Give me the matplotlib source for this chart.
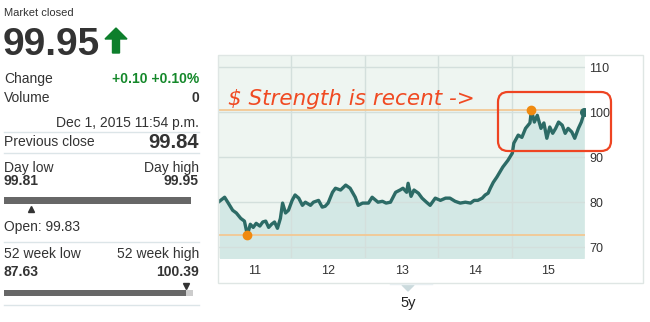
import matplotlib.pyplot as plt
from matplotlib.lines import Line2D
from matplotlib.patches import FancyBboxPatch, Polygon, Rectangle

# ---- data ----
years = [
    2011.02, 2011.09, 2011.14, 2011.20, 2011.25, 2011.31, 2011.36, 2011.40, 2011.44, 2011.48,
    2011.52, 2011.57, 2011.61, 2011.65, 2011.69, 2011.73, 2011.77, 2011.81, 2011.85, 2011.88,
    2011.92, 2011.96, 2012.01, 2012.05, 2012.10, 2012.15, 2012.19, 2012.26, 2012.30, 2012.37,
    2012.42, 2012.46, 2012.50, 2012.56, 2012.60, 2012.67, 2012.74, 2012.80, 2012.87, 2012.91,
    2012.97, 2013.05, 2013.10, 2013.18, 2013.24, 2013.29, 2013.35, 2013.42, 2013.48, 2013.52,
    2013.57, 2013.59, 2013.63, 2013.67, 2013.73, 2013.78, 2013.84, 2013.89, 2013.96, 2014.03,
    2014.10, 2014.16, 2014.23, 2014.30, 2014.37, 2014.44, 2014.49, 2014.54, 2014.60, 2014.64,
    2014.68, 2014.71, 2014.75, 2014.80, 2014.84, 2014.88, 2014.95, 2015.01, 2015.03, 2015.09,
    2015.14, 2015.19, 2015.25, 2015.27, 2015.31, 2015.35, 2015.40, 2015.44, 2015.48, 2015.52,
    2015.56, 2015.60, 2015.64, 2015.69, 2015.73, 2015.77, 2015.82, 2015.86, 2015.91, 2015.95,
    2015.99,
]
price = [
    80.2, 81.1, 79.8, 78.2, 77.6, 76.4, 75.8, 72.7, 75.1, 74.4,
    75.3, 74.7, 75.6, 75.8, 74.4, 75.1, 75.6, 74.2, 76.4, 79.8,
    77.6, 78.2, 80.4, 81.6, 80.9, 79.3, 80.0, 79.3, 80.0, 80.4,
    78.9, 79.1, 79.8, 82.2, 83.1, 82.7, 83.8, 83.1, 81.1, 79.3,
    79.8, 79.8, 81.1, 80.0, 80.2, 79.8, 80.0, 82.2, 82.7, 83.1,
    82.2, 84.2, 81.3, 82.7, 82.0, 80.9, 80.0, 79.3, 80.9, 80.4,
    80.9, 80.9, 80.2, 79.8, 80.0, 79.8, 80.4, 80.4, 80.9, 81.6,
    82.0, 83.1, 84.4, 85.6, 86.7, 87.8, 89.3, 90.9, 93.1, 94.9,
    94.4, 96.4, 97.6, 100.4, 97.8, 99.3, 96.4, 97.6, 94.2, 96.7,
    95.3, 96.4, 97.8, 97.1, 95.3, 96.4, 95.6, 94.2, 96.4, 97.8,
    99.95,
]
year_ticks = [2011.5, 2012.5, 2013.5, 2014.5, 2015.5]
year_labels = ["11", "12", "13", "14", "15"]
year_bounds = [2012, 2013, 2014, 2015]
y_ticks = [70, 80, 90, 100, 110]

last_price = 99.95
change_txt = "+0.10 +0.10%"
volume = 0
timestamp = "Dec 1, 2015 11:54 p.m."
prev_close = 99.84
day_low, day_high = 99.81, 99.95
open_price = 99.83
wk52_low, wk52_high = 87.63, 100.39

W, H = 650, 322
plt.rcParams["font.family"] = ["Liberation Sans", "DejaVu Sans"]

fig = plt.figure(figsize=(W / 100, H / 100), dpi=100)
inch = fig.dpi_scale_trans


def box(x0, y0, x1, y1):
    return [x0 / W, 1 - y1 / H, (x1 - x0) / W, (y1 - y0) / H]


def txt(x, y, s, **kw):
    kw.setdefault("color", "#333333")
    kw.setdefault("va", "baseline")
    return fig.text(x / 100, (H - y) / 100, s, transform=inch, **kw)


def hline(x0, x1, y, color="#dce5e8", lw=1.0):
    fig.add_artist(Line2D([x0 / 100, x1 / 100], [(H - y) / 100] * 2,
                          transform=inch, color=color, lw=lw))


# ---- price chart ----
teal = "#2c6b66"
ax = fig.add_axes(box(218, 55, 585, 258))
ax.set_facecolor("#eef5f1")
ax.fill_between(years, price, 60, color="#d3e8e5", lw=0, zorder=0.2)
ax.axhline(max(price), color="#f3c894", lw=1.3, zorder=1)
ax.axhline(min(price), color="#f3c894", lw=1.3, zorder=1)
ax.plot(years, price, color=teal, lw=2.4, solid_joinstyle="round", zorder=3)
hi = price.index(max(price))
lo = price.index(min(price))
ax.plot(years[hi], price[hi], "o", color="#f08a10", ms=6, zorder=4)
ax.plot(years[lo], price[lo], "o", color="#f08a10", ms=6, zorder=4)
ax.plot(years[-1], price[-1], "o", color=teal, ms=5.5, zorder=4)

ax.set_xlim(2011, 2016)
ax.set_ylim(67.6, 112.7)
ax.set_xticks(year_ticks, year_labels)
ax.set_xticks(year_bounds, minor=True)
ax.set_yticks(y_ticks)
ax.yaxis.tick_right()
ax.grid(which="minor", axis="x", color="#d3dfdc", lw=1)
ax.grid(which="major", axis="y", color="#d3dfdc", lw=1)
ax.set_axisbelow(True)
ax.tick_params(which="both", length=0, labelsize=9, colors="#333333")
ax.tick_params(axis="x", pad=5)
ax.tick_params(axis="y", pad=3)
for s in ax.spines.values():
    s.set_visible(False)

# outer frame
fig.add_artist(Rectangle((2.18, (H - 283) / 100), 4.25, 2.28, transform=inch,
                         fill=False, edgecolor="#dfe6e4", lw=1))

# annotation
txt(228, 105, "$ Strength is recent ->", color="#f04a22", fontsize=15.5,
    style="italic", family=["DejaVu Sans"])
fig.add_artist(FancyBboxPatch((4.98, (H - 151) / 100), 1.13, 0.59, transform=inch,
                              boxstyle="round,pad=0,rounding_size=0.1",
                              fill=False, edgecolor="#ee4422", lw=1.6))

# period selector
hline(390, 432, 284, color="#e8eff1")
fig.add_artist(Polygon([(4.02, (H - 285) / 100), (4.14, (H - 285) / 100),
                        (4.08, (H - 291) / 100)], transform=inch, color="#cbdadd"))
txt(408, 307, "5y", ha="center", fontsize=10.5, color="#222222")

# ---- quote panel ----
green = "#14882a"
txt(4, 16, "Market closed", fontsize=8)
txt(3, 55, f"{last_price:.2f}", fontsize=28, weight="bold")
fig.add_artist(Polygon([(x / 100, (H - y) / 100) for x, y in
                        [(105, 39), (116, 28), (127, 39), (119.5, 39), (119.5, 53),
                         (112.5, 53), (112.5, 39)]], transform=inch, color="#0d7f2c"))
txt(4, 83, "Change", fontsize=10)
txt(199, 83, change_txt, ha="right", fontsize=10, weight="bold", color=green)
txt(4, 102, "Volume", fontsize=10)
txt(199, 102, f"{volume}", ha="right", fontsize=10, weight="bold")
txt(199, 127, timestamp, ha="right", fontsize=10)
hline(4, 199, 132)
txt(4, 146, "Previous close", fontsize=10)
txt(199, 148, f"{prev_close:.2f}", ha="right", fontsize=14.5, weight="bold")
hline(4, 199, 153)
txt(4, 172, "Day low", fontsize=10)
txt(199, 172, "Day high", ha="right", fontsize=10)
txt(4, 185, f"{day_low:.2f}", fontsize=10, weight="bold")
txt(199, 185, f"{day_high:.2f}", ha="right", fontsize=10, weight="bold")
txt(4, 231, f"Open: {open_price:.2f}", fontsize=10)
hline(4, 199, 242)
txt(4, 258, "52 week low", fontsize=10)
txt(199, 258, "52 week high", ha="right", fontsize=10)
txt(4, 276, f"{wk52_low:.2f}", fontsize=10, weight="bold")
txt(199, 276, f"{wk52_high:.2f}", ha="right", fontsize=10, weight="bold")
hline(4, 199, 305)

# day range bar
axd = fig.add_axes(box(4, 197, 191, 204))
axd.barh(0, last_price - day_low, left=day_low, height=1, color="#676767")
axd.barh(0, day_high - last_price, left=last_price, height=1, color="#cccccc")
axd.plot(open_price, -1.15, "^", color="#333333", ms=4.5, clip_on=False)
axd.set_xlim(day_low, day_high)
axd.set_ylim(-0.5, 0.5)
axd.axis("off")

# 52 week bar
axw = fig.add_axes(box(4, 290, 193, 296))
axw.barh(0, last_price - wk52_low, left=wk52_low, height=1, color="#676767")
axw.barh(0, wk52_high - last_price, left=last_price, height=1, color="#cccccc")
axw.plot(last_price, 1.15, "v", color="#333333", ms=4.5, clip_on=False)
axw.set_xlim(wk52_low, wk52_high)
axw.set_ylim(-0.5, 0.5)
axw.axis("off")

fig.savefig("out.png", dpi=100)
